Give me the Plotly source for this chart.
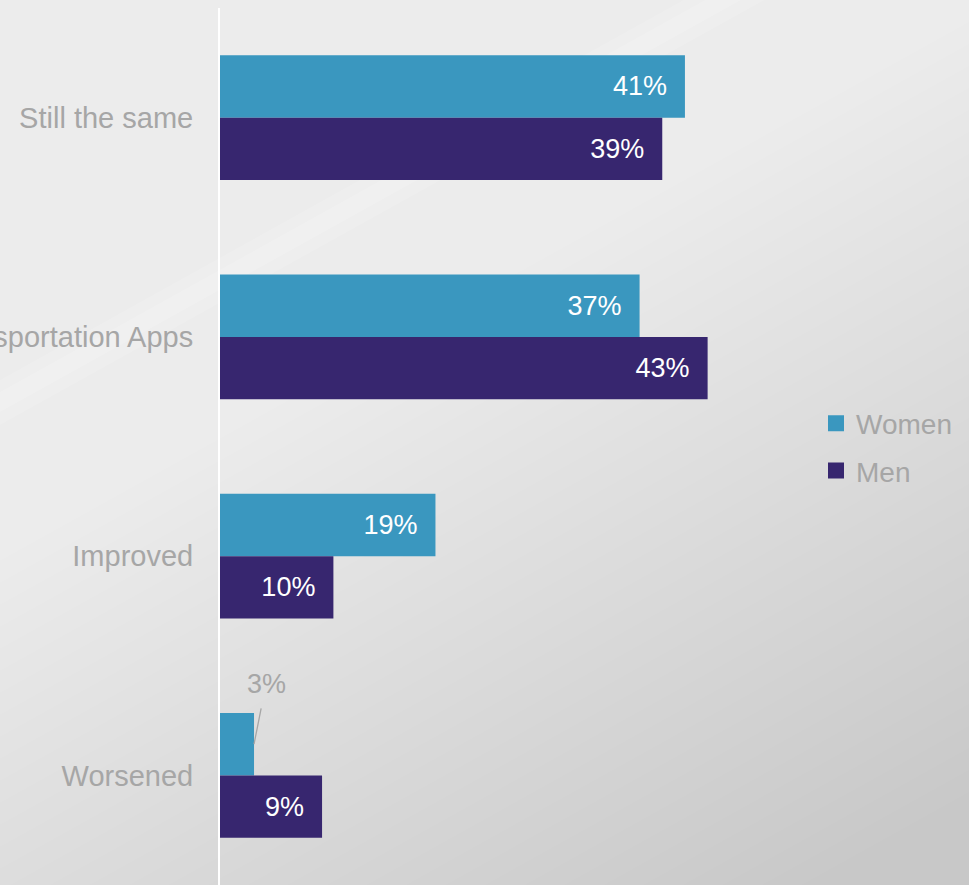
import plotly.graph_objects as go

# Survey answers, listed top to bottom
categories = ["Still the same", "Transportation Apps", "Improved", "Worsened"]
women = [41, 37, 19, 3]
men = [39, 43, 10, 9]
series_names = ["Women", "Men"]

WOMEN_COLOR = "#3A97BF"
MEN_COLOR = "#37266F"
LABEL_GRAY = "#A6A6A6"
FONT = "Liberation Sans, Arial, sans-serif"

W, H = 969, 885
M_L, M_R, M_T, M_B = 220, 182, 8, 0
PLOT_W = W - M_L - M_R
PLOT_H = H - M_T - M_B
X_MAX = 50


def px_to_paper(x, y):
    return (x - M_L) / PLOT_W, 1 - (y - M_T) / PLOT_H


def path_from_px(points):
    pts = [px_to_paper(x, y) for x, y in points]
    return "M" + "L".join(f"{a:.4f},{b:.4f}" for a, b in pts) + "Z"


def bar_text(values, min_inside=5):
    # value labels sit inside the bar end; tiny bars get a callout instead
    texts = [f"{v}%\u00a0\u00a0" for v in values]
    positions = ["inside" if v >= min_inside else "none" for v in values]
    return texts, positions


fig = go.Figure()

w_text, w_pos = bar_text(women)
m_text, m_pos = bar_text(men)

fig.add_trace(go.Bar(
    name=series_names[0], y=categories, x=women, orientation="h",
    marker=dict(color=WOMEN_COLOR, line=dict(width=0)),
    text=w_text, textposition=w_pos, insidetextanchor="end", textangle=0,
    insidetextfont=dict(color="white", size=27, family=FONT),
    showlegend=False, hoverinfo="skip",
))
fig.add_trace(go.Bar(
    name=series_names[1], y=categories, x=men, orientation="h",
    marker=dict(color=MEN_COLOR, line=dict(width=0)),
    text=m_text, textposition=m_pos, insidetextanchor="end", textangle=0,
    insidetextfont=dict(color="white", size=27, family=FONT),
    showlegend=False, hoverinfo="skip",
))

# Legend entries with larger square swatches
for name, color, grp in [(series_names[0], WOMEN_COLOR, "a"), (series_names[1], MEN_COLOR, "b")]:
    fig.add_trace(go.Scatter(
        x=[None], y=[None], mode="markers", name=name, legendgroup=grp,
        marker=dict(symbol="square", size=16, color=color),
        hoverinfo="skip",
    ))

# Callout for bars too short to hold their own label
BARGAP = 0.43
bar_w = (1 - BARGAP) / 2
for i, v in enumerate(women):
    if w_pos[i] == "none":
        fig.add_annotation(
            x=v, y=i - bar_w / 2, xref="x", yref="y",
            text=f"{v}%", showarrow=True, arrowhead=0, arrowwidth=1.3,
            arrowcolor=LABEL_GRAY, ax=12, ay=-60, startstandoff=8, standoff=0,
            font=dict(size=27, color=LABEL_GRAY, family=FONT),
        )

# Soft grey backdrop: darker towards the lower right, faint diagonal streak
shapes = []
slope = 0.556
for k in range(36):
    c = 560 + k * 22
    pts = [(-200, c + slope * 200), (1200, c - slope * 1200), (1200, 1200), (-200, 1200)]
    shapes.append(dict(type="path", xref="paper", yref="paper", layer="below",
                       path=path_from_px(pts), fillcolor="rgba(0,0,0,0.002)",
                       line=dict(width=0)))
for c0, c1, a in [(380, 425, 0.12), (392, 412, 0.14)]:
    pts = [(-200, c0 + slope * 200), (1200, c0 - slope * 1200),
           (1200, c1 - slope * 1200), (-200, c1 + slope * 200)]
    shapes.append(dict(type="path", xref="paper", yref="paper", layer="below",
                       path=path_from_px(pts), fillcolor=f"rgba(255,255,255,{a})",
                       line=dict(width=0)))

fig.update_layout(
    width=W, height=H,
    margin=dict(l=M_L, r=M_R, t=M_T, b=M_B, autoexpand=False),
    paper_bgcolor="#ECECEC", plot_bgcolor="rgba(0,0,0,0)",
    barmode="group", bargap=BARGAP, bargroupgap=0,
    font=dict(family=FONT, color=LABEL_GRAY),
    shapes=shapes,
    xaxis=dict(range=[0, X_MAX], visible=False, fixedrange=True),
    yaxis=dict(
        categoryorder="array", categoryarray=categories, autorange="reversed",
        showline=True, linecolor="white", linewidth=2, ticks="",
        showgrid=False, zeroline=False, automargin=False,
        ticklabelstandoff=19,
        tickfont=dict(size=29, color=LABEL_GRAY, family=FONT),
    ),
    legend=dict(
        x=px_to_paper(816, 0)[0], xanchor="left",
        y=px_to_paper(0, 447)[1], yanchor="middle",
        bgcolor="rgba(0,0,0,0)", traceorder="grouped", tracegroupgap=8,
        font=dict(size=28, color=LABEL_GRAY, family=FONT),
        itemclick=False, itemdoubleclick=False,
    ),
    showlegend=True,
)

fig.write_html("out.html")
